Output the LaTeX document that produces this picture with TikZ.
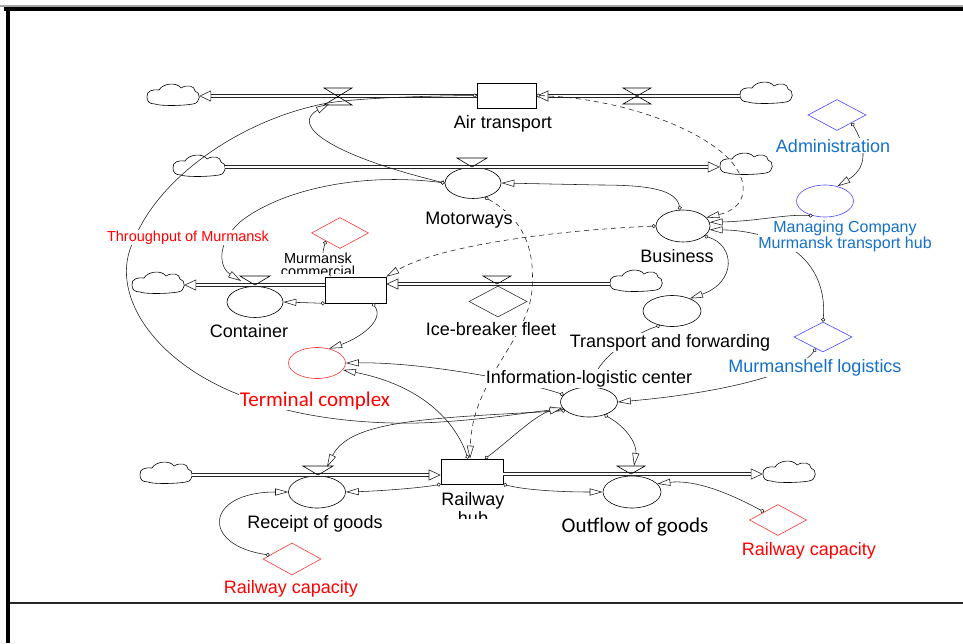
\documentclass[tikz,border=0pt]{standalone}
\usepackage{fontspec}
\setmainfont{Liberation Sans}
\newfontfamily\calib{Carlito}
\usetikzlibrary{arrows.meta,shapes.geometric}
\definecolor{vred}{RGB}{255,50,50}
\definecolor{vblue}{RGB}{70,70,255}
\definecolor{tblue}{RGB}{20,112,200}
\definecolor{tred}{RGB}{255,0,0}
\begin{document}
\begin{tikzpicture}[x=1pt,y=-1pt,
  stock/.style={rectangle, draw, line width=.6pt, inner sep=0pt, fill=white},
  aux/.style={ellipse, draw, line width=.6pt, inner sep=0pt, fill=white},
  cnst/.style={diamond, draw, line width=.6pt, inner sep=0pt},
  sky/.style={ellipse, draw=none, inner sep=0pt, minimum width=52pt, minimum height=20pt},
  cloudpic/.pic={\draw[line width=.6pt] (-26,2) .. controls (-27,-4) and (-20,-6) .. (-14,-5)
     .. controls (-10,-12) and (4,-13) .. (8,-7)
     .. controls (14,-11) and (22,-9) .. (22,-4)
     .. controls (28,-3) and (28,8) .. (20,9)
     .. controls (8,11) and (-14,11) .. (-18,9)
     .. controls (-24,9) and (-26,6) .. (-26,2) -- cycle;},
  pipe/.style={draw=black!85, line width=.55pt, double=white, double distance=2.2pt},
  pipehead/.style={-{Triangle[length=12pt,width=11pt,fill=white,line width=.6pt]}},
  valve/.style={draw, line width=.6pt},
  link/.style={draw=black!90, line width=.55pt, {Circle[length=4pt,width=4pt,fill=white]}-{Triangle[length=13pt,width=7pt,fill=white]}},
  dlink/.style={link, dash pattern=on 5pt off 4pt},
  lab/.style={font=\fontsize{18}{20}\selectfont, inner sep=1pt, fill=white, anchor=base},
  labc/.style={font=\calib\fontsize{21}{23}\selectfont, inner sep=1pt, fill=white, anchor=base},
  labs/.style={font=\fontsize{14.5}{13}\selectfont, inner sep=0pt, fill=white, align=center, anchor=north},
  labm/.style={font=\fontsize{16}{13}\selectfont, inner sep=0pt, fill=white, align=center, anchor=north, text=tblue}
]
\useasboundingbox (0,0) rectangle (963,643);
% frame
\fill[black!35] (0,5.3) rectangle (963,6.5);
\fill[black] (4,7) rectangle (963,11);
\fill[black] (6,7) rectangle (10,643);
\draw[line width=1.3pt, black!85] (10,603) -- (963,603);

% valve coordinates
\coordinate (vA1) at (338,96);
\coordinate (vA2) at (637,96);
\coordinate (vM) at (472,167);
\coordinate (vC) at (255,285);
\coordinate (vI) at (497,284);
\coordinate (vR) at (318,475);
\coordinate (vO) at (631,474);
\coordinate (vA1in) at (329,104);
\coordinate (vCin) at (241,281);
\coordinate (vRin) at (327,467);
\coordinate (vOin) at (634,466);

% stocks
\node[stock, minimum width=59pt, minimum height=25pt] (air) at (506.5,95.5) {};
\node[stock, minimum width=61pt, minimum height=26pt] (port) at (355.5,290) {};
\node[stock, minimum width=62pt, minimum height=25pt] (hub) at (472,471.5) {};

% clouds
\node[sky] (cA1) at (173,95) {};
\node[sky] (cA2) at (766,93) {};
\node[sky] (cM1) at (199,166) {};
\node[sky] (cM2) at (746,164) {};
\node[sky] (cP1) at (158,283) {};
\node[sky] (cP2) at (636,281) {};
\node[sky] (cR1) at (166,473) {};
\node[sky] (cR2) at (789,472) {};
\foreach \c in {cA1,cA2,cM1,cM2,cP1,cP2,cR1,cR2} {\pic at (\c) {cloudpic};}

% rate and auxiliary circles
\node[aux, minimum width=56pt, minimum height=31pt] (mot) at (473,183) {};
\node[aux, minimum width=54pt, minimum height=32pt] (bus) at (683,226) {};
\node[aux, minimum width=56pt, minimum height=31pt] (cont) at (255,302) {};
\node[aux, draw=vred, minimum width=57pt, minimum height=31pt] (term) at (317,363) {};
\node[aux, minimum width=58pt, minimum height=31pt] (trans) at (672,311) {};
\node[aux, minimum width=57pt, minimum height=30pt] (info) at (589,402) {};
\node[aux, minimum width=57pt, minimum height=32pt] (rec) at (317,492) {};
\node[aux, minimum width=58pt, minimum height=32pt] (out) at (632,492) {};
\node[aux, draw=vblue, minimum width=57pt, minimum height=32pt] (mc) at (825,201) {};

% constants
\node[cnst, draw=vred, minimum width=57pt, minimum height=31pt] (thr) at (340,233) {};
\node[cnst, draw=vblue, minimum width=58pt, minimum height=31pt] (adm) at (837,115) {};
\node[cnst, draw=vblue, minimum width=58pt, minimum height=30pt] (msl) at (823,337) {};
\node[cnst, draw=vred, minimum width=58pt, minimum height=32pt] (rcL) at (292,559) {};
\node[cnst, draw=vred, minimum width=57pt, minimum height=31pt] (rcR) at (778,520) {};
\node[cnst, draw=black!80, minimum width=58pt, minimum height=31pt] (ice) at (498,301.5) {};

% pipes
\draw[pipe, pipehead] (air.west |- vA1) -- (cA1.east |- vA1);
\draw[pipe, pipehead] (cA2.west |- vA2) -- (air.east |- vA2);
\draw[pipe, pipehead] (cM1.east |- vM) -- (cM2.west |- vM);
\draw[pipe, pipehead] (port.west |- vC) -- (cP1.east |- vC);
\draw[pipe, pipehead] (cP2.west |- vI) -- (port.east |- vI);
\draw[pipe, pipehead] (cR1.east |- vR) -- (hub.west |- vR);
\draw[pipe, pipehead] (hub.east |- vO) -- (cR2.west |- vO);

% valves
\draw[valve] (324,88) -- (352,88) -- (324,105) -- (352,105) -- cycle;
\draw[valve] (623,88) -- (651,88) -- (623,104) -- (651,104) -- cycle;
\draw[valve] (457,158) -- (487,158) -- (vM) -- cycle;
\draw[valve] (240,276) -- (270,276) -- (vC) -- cycle;
\draw[valve] (483,276) -- (511,276) -- (vI) -- cycle;
\draw[valve] (303,466) -- (333,466) -- (vR) -- cycle;
\draw[valve] (617,466) -- (645,466) -- (vO) -- cycle;

% links
\draw[link] (air.west) .. controls (420,96) and (360,98) .. (328,103)
   .. controls (245,118) and (160,175) .. (134,240)
   .. controls (108,290) and (150,360) .. (240,395)
   .. controls (300,420) and (380,426) .. (440,422)
   .. controls (490,419) and (530,412) .. (info.195);
\draw[link] (mot.west) .. controls (330,155) and (290,125) .. (vA1in);
\draw[link] (mot.west) .. controls (360,172) and (280,190) .. (240,222)
   .. controls (215,245) and (220,268) .. (vCin);
\draw[dlink] (mot.-50) .. controls (525,220) and (535,250) .. (532,290)
   .. controls (528,340) and (472,380) .. ([xshift=-2pt]hub.north);
\draw[link] (bus.100) .. controls (676,190) and (650,185) .. (600,185) -- (mot.east);
\draw[dlink] (bus.west) .. controls (560,230) and (440,245) .. (port.north east);
\draw[link] (bus.-25) .. controls (735,245) and (737,282) .. (trans.35);
\draw[dlink] (air.east) .. controls (620,98) and (700,128) .. (730,160)
   .. controls (750,182) and (748,208) .. (bus.20);
\draw[link] (mc.-130) .. controls (785,214) and (760,221) .. (bus.8);
\draw[link] (msl.north) .. controls (826,285) and (812,255) .. (775,240)
   .. controls (755,232) and (735,230) .. (bus.-8);
\draw[link] (adm.south east) .. controls (862,140) and (872,165) .. (mc.50);
\draw[link] (trans.-130) .. controls (630,335) and (600,360) .. (info.80);
\draw[link] (msl.-122) .. controls (795,378) and (700,395) .. (info.east);
\draw[link] (info.164) .. controls (520,380) and (420,362) .. (term.east);
\draw[link] (info.200) .. controls (430,418) and (350,420) .. (vRin);
\draw[link] (info.-40) .. controls (628,428) and (637,445) .. (vOin);
\draw[link] ([xshift=13pt]hub.north) .. controls (510,440) and (535,415) .. (info.192);
\draw[link] ([xshift=-4pt]hub.north) .. controls (455,420) and (420,385) .. (term.-15);
\draw[link] ([xshift=17pt]port.south) .. controls (385,320) and (360,338) .. (term.50);
\draw[link] (port.south west) -- (cont.east);
\draw[link] (thr.south west) .. controls (322,255) .. ([xshift=6pt]port.north west);
\draw[link] (hub.south west) .. controls (420,488) and (380,491) .. (rec.east);
\draw[link] (hub.south east) .. controls (525,490) and (560,492) .. (out.west);
\draw[link] (rcL.170) .. controls (200,545) and (205,492) .. (rec.west);
\draw[link] (rcR.150) .. controls (720,488) and (690,480) .. (out.18);

% labels
\node[lab] (tAir) at (503,128) {Air transport};
\node[lab] (tMot) at (469,224) {Motorways};
\node[lab] (tBus) at (677,262) {Business};
\node[lab] (tCont) at (249,337) {Container};
\node[lab] (tIce) at (491,335) {Ice-breaker fleet};
\node[lab] (tTrans) at (670,347) {Transport and forwarding};
\node[lab] (tInfo) at (589,383) {Information-logistic center};
\node[labc, text=tred] (tTerm) at (315,406) {Terminal complex};
\node[lab] (tRec) at (315,528) {Receipt of goods};
\node[labc] (tOut) at (635,532) {Outflow of goods};
\node[lab, text=tred] (tRcL) at (291,593) {Railway capacity};
\node[lab, text=tred] (tRcR) at (809,555) {Railway capacity};
\node[lab, text=tblue] (tAdm) at (833,152) {Administration};
\node[lab, text=tblue] (tMsl) at (815,372) {Murmanshelf logistics};
\node[labm] (tMc) at (845,220.5) {Managing Company\\Murmansk transport hub};
\node[labs, anchor=base, inner sep=0.5pt, text=tred] (tThr) at (188,241) {Throughput of Murmansk};
\node[lab, fill=none] (tHub1) at (473,505) {Railway};
\begin{scope}
  \clip (400,508) rectangle (550,518);
  \node[lab, fill=none] (tHub2) at (473,524) {hub};
\end{scope}
\begin{scope}
  \clip (250,245) rectangle (400,273.5);
  \node[labs] (tPort) at (318,252.6) {Murmansk\\commercial};
\end{scope}
\end{tikzpicture}
\end{document}
